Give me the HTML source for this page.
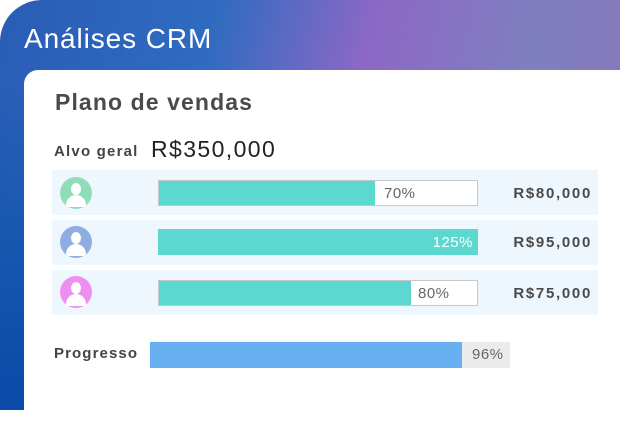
<!DOCTYPE html>
<html><head><meta charset="utf-8"><style>
*{margin:0;padding:0;box-sizing:border-box}
body{width:620px;height:410px;overflow:hidden;background:#fff;font-family:"Liberation Sans",sans-serif;position:relative}
.bg{position:absolute;left:0;top:0;width:620px;height:410px;border-top-left-radius:42px;
background:linear-gradient(105deg,#2a5cb6 0%,#2f6bc0 30%,#8c68c6 52%,#7f7fbe 75%,#8a74ba 100%);}
.bg2{position:absolute;left:0;top:0;width:620px;height:410px;border-top-left-radius:42px;
background:linear-gradient(180deg,rgba(0,0,0,0) 0%,rgba(0,0,0,0) 20%,#1657b0 60%,#0a4aa8 100%)}
.title{position:absolute;left:24px;top:23px;color:#fff;font-size:28px;letter-spacing:0.9px}
.card{position:absolute;left:24px;top:70px;width:620px;height:360px;background:#fff;border-top-left-radius:14px}
.abs{position:absolute}
.h{left:55px;top:89px;font-size:23px;font-weight:bold;color:#4a4a4a;letter-spacing:1.1px}
.row{position:absolute;left:52px;width:546px;height:45px;background:#eff7fe}
.av{position:absolute;left:60px;width:32px;height:32px;border-radius:50%;overflow:hidden}
.av .hd{position:absolute;left:11px;top:6px;width:10px;height:12px;border-radius:50%;background:#fff}
.av .bd{position:absolute;left:6px;top:18px;width:20px;height:12px;border-radius:10px 10px 2px 2px;background:#fff}
.bar{position:absolute;left:158px;width:320px;height:26px;background:#fff;border:1px solid #c8c8c8}
.fill{position:absolute;left:0;top:0;height:100%;background:#5dd8d0}
.pct{position:absolute;top:4px;font-size:15px;color:#666;letter-spacing:0.5px}
.amt{position:absolute;right:28px;font-size:15px;font-weight:bold;color:#4a4a4a;letter-spacing:1.7px}
</style></head><body>
<div class="bg"></div><div class="bg2"></div>
<div class="title">Análises CRM</div>
<div class="card"></div>
<div class="abs h">Plano de vendas</div>
<div class="abs" style="left:54px;top:143px;font-size:15px;font-weight:bold;color:#444;letter-spacing:1.2px">Alvo geral</div>
<div class="abs" style="left:151px;top:136px;font-size:23px;color:#222;letter-spacing:1.4px">R$350,000</div>

<div class="row" style="top:170px"></div>
<div class="row" style="top:220px"></div>
<div class="row" style="top:270px"></div>

<div class="av" style="top:177px;background:#8fdcb8"><div class="hd"></div><div class="bd"></div></div>
<div class="av" style="top:226px;background:#8fade0"><div class="hd"></div><div class="bd"></div></div>
<div class="av" style="top:276px;background:#ec8ff0"><div class="hd"></div><div class="bd"></div></div>

<div class="bar" style="top:180px"><div class="fill" style="width:216px"></div><div class="pct" style="left:225px">70%</div></div>
<div class="bar" style="top:229px;border-color:#5dd8d0"><div class="fill" style="width:100%"></div><div class="pct" style="right:4px;color:#fff">125%</div></div>
<div class="bar" style="top:280px"><div class="fill" style="width:252px"></div><div class="pct" style="left:259px">80%</div></div>

<div class="amt" style="top:185px">R$80,000</div>
<div class="amt" style="top:234px">R$95,000</div>
<div class="amt" style="top:285px">R$75,000</div>

<div class="abs" style="left:54px;top:345px;font-size:15px;font-weight:bold;color:#444;letter-spacing:1.1px">Progresso</div>
<div class="abs" style="left:150px;top:342px;width:360px;height:26px;background:#ebebeb">
<div style="position:absolute;left:0;top:0;width:312px;height:26px;background:#68b0f2"></div>
<div class="pct" style="left:322px;color:#666">96%</div></div>
</body></html>
